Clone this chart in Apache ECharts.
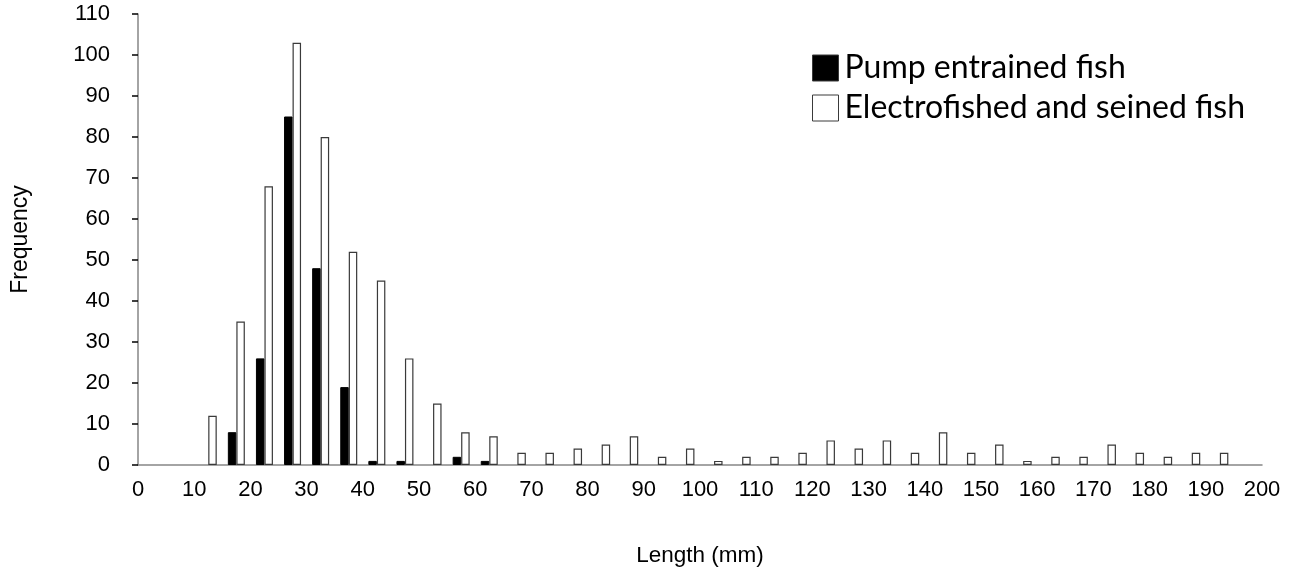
<!DOCTYPE html>
<html>
<head>
<meta charset="utf-8">
<script src="https://cdn.jsdelivr.net/npm/echarts@6/dist/echarts.min.js"></script>
<style>
html,body{margin:0;padding:0;background:#fff;}
#chart{width:1301px;height:574px;}
</style>
</head>
<body>
<div id="chart"></div>
<script>
// Length bins (mm), 5 mm wide
const binStarts = [0,5,10,15,20,25,30,35,40,45,50,55,60,65,70,75,80,85,90,95,100,105,110,115,120,125,130,135,140,145,150,155,160,165,170,175,180,185,190,195];
const categories = binStarts.map(s => s + '-' + (s + 5));
const pumpEntrained = [0,0,0,8,26,85,48,19,1,1,0,2,1,0,0,0,0,0,0,0,0,0,0,0,0,0,0,0,0,0,0,0,0,0,0,0,0,0,0,0];
const electrofished = [0,0,12,35,68,103,80,52,45,26,15,8,7,3,3,4,5,7,2,4,1,2,2,3,6,4,6,3,8,3,5,1,2,2,5,3,2,3,3,0];
const seriesNames = ['Pump entrained fish', 'Electrofished and seined fish'];
const yTicks = {min: 0, max: 110, interval: 10};
const xTicks = {min: 0, max: 200, interval: 10};

// empty bins draw nothing (no flat outline)
const asBars = arr => arr.map(v => (v === 0 ? null : v));

const chart = echarts.init(document.getElementById('chart'));
const axisGray = '#868686';
const font = '"Liberation Sans", Arial, sans-serif';
chart.setOption({
  animation: false,
  backgroundColor: '#fff',
  grid: {left: 138, right: 39, top: 14, bottom: 109},
  legend: {
    orient: 'vertical',
    left: 807, top: 47,
    itemWidth: 26, itemHeight: 26, itemGap: 8,
    itemStyle: {borderColor: '#3a3a3a', borderWidth: 1},
    icon: 'rect',
    textStyle: {fontFamily: 'Lato, sans-serif', fontSize: 32, color: '#000', padding: [0,0,0,1]},
    data: seriesNames
  },
  xAxis: [{
    type: 'category',
    data: categories,
    boundaryGap: true,
    axisLine: {lineStyle: {color: axisGray, width: 1.5}},
    axisTick: {interval: 0, length: 6, lineStyle: {color: '#000', width: 1.5}},
    axisLabel: {show: false},
    splitLine: {show: false},
    name: 'Length (mm)',
    nameLocation: 'middle',
    nameGap: 79,
    nameTextStyle: {fontFamily: font, fontSize: 22.5, color: '#000'}
  }, {
    type: 'value',
    position: 'bottom',
    min: xTicks.min, max: xTicks.max, interval: xTicks.interval,
    axisLine: {show: false},
    axisTick: {show: false},
    splitLine: {show: false},
    axisLabel: {fontFamily: font, fontSize: 22, color: '#000', margin: 14}
  }],
  yAxis: {
    type: 'value',
    min: yTicks.min, max: yTicks.max, interval: yTicks.interval,
    axisLine: {show: true, lineStyle: {color: axisGray, width: 1.5}},
    axisTick: {show: true, length: 6, lineStyle: {color: '#000', width: 1.5}},
    splitLine: {show: false},
    axisLabel: {fontFamily: font, fontSize: 22, color: '#000', margin: 28},
    name: 'Frequency',
    nameLocation: 'middle',
    nameGap: 106,
    nameTextStyle: {fontFamily: font, fontSize: 23, color: '#000'}
  },
  series: [{
    name: seriesNames[0],
    type: 'bar',
    xAxisIndex: 0,
    data: asBars(pumpEntrained),
    barWidth: 8.5,
    barGap: '0%',
    itemStyle: {color: '#000', borderColor: '#000', borderWidth: 1}
  }, {
    name: seriesNames[1],
    type: 'bar',
    xAxisIndex: 0,
    data: asBars(electrofished),
    barWidth: 8.5,
    barGap: '0%',
    itemStyle: {color: '#fff', borderColor: '#3a3a3a', borderWidth: 1.2}
  }]
});
</script>
</body>
</html>
